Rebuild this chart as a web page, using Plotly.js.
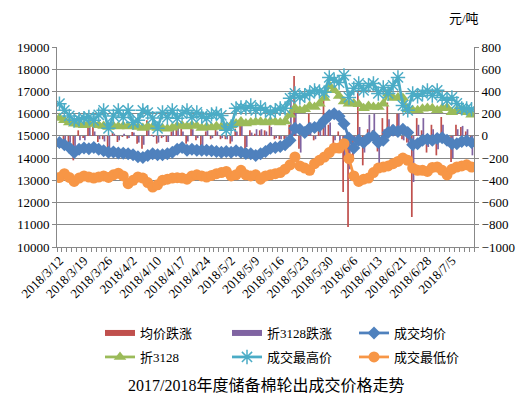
<!DOCTYPE html>
<html>
<head>
<meta charset="utf-8">
<script src="https://cdn.plot.ly/plotly-3.0.1.min.js"></script>
<style>html,body{margin:0;padding:0;background:#fff;}#chart{width:524px;height:398px;}</style>
</head>
<body>
<div id="chart"></div>
<script>
const dates = [
 "2018/3/12","2018/3/13","2018/3/14","2018/3/15","2018/3/16",
 "2018/3/19","2018/3/20","2018/3/21","2018/3/22","2018/3/23",
 "2018/3/26","2018/3/27","2018/3/28","2018/3/29","2018/3/30",
 "2018/4/2","2018/4/3","2018/4/4","2018/4/8","2018/4/9",
 "2018/4/10","2018/4/11","2018/4/12","2018/4/13","2018/4/16",
 "2018/4/17","2018/4/18","2018/4/19","2018/4/20","2018/4/23",
 "2018/4/24","2018/4/25","2018/4/26","2018/4/27","2018/4/28",
 "2018/5/2","2018/5/3","2018/5/4","2018/5/7","2018/5/8",
 "2018/5/9","2018/5/10","2018/5/11","2018/5/14","2018/5/15",
 "2018/5/16","2018/5/17","2018/5/18","2018/5/21","2018/5/22",
 "2018/5/23","2018/5/24","2018/5/25","2018/5/28","2018/5/29",
 "2018/5/30","2018/5/31","2018/6/1","2018/6/4","2018/6/5",
 "2018/6/6","2018/6/7","2018/6/8","2018/6/11","2018/6/12",
 "2018/6/13","2018/6/14","2018/6/15","2018/6/19","2018/6/20",
 "2018/6/21","2018/6/22","2018/6/25","2018/6/26","2018/6/27",
 "2018/6/28","2018/6/29","2018/7/2","2018/7/3","2018/7/4",
 "2018/7/5","2018/7/6","2018/7/9","2018/7/10","2018/7/11"
];
// 均价跌涨
const avgChange = [
 0,-55,-85,-220,50, -20,85,85,-55,-30,
 -115,35,-55,-10,-25, 35,-70,-115,140,10,
 -70,-20,-55,40,95, 65,-70,110,-40,-130,
 40,-30,65,-30,-30, -70,65,100,-130,50,
 20,50,50,95,-30, -30,-30,100,540,-115,
 60,200,-40,80,350, 100,-70,40,-505,-820,
 -220,410,-265,60,50, -140,160,300,100,200,
 -30,-60,-730,160,50, -150,100,-175,170,-50,
 -235,100,80,40,-60
];
// 折3128跌涨
const c3128Change = [
 0,-40,-60,-120,-40, -40,95,40,-30,-50,
 -110,20,-40,20,-20, 30,-60,-80,60,-10,
 -60,-10,-55,55,80, 40,-50,60,-20,-120,
 55,-20,40,-20,-30, -50,40,90,-100,30,
 60,60,40,80,-20, -30,-20,365,250,-150,
 40,120,-30,60,160, 120,-40,-50,-200,-300,
 -60,80,-150,190,200, -325,60,150,80,200,
 -40,-70,-415,100,160, -100,60,-120,100,-40,
 -200,60,90,60,-175
];
// 成交均价
const avgPrice = [
 14700,14600,14480,14250,14400, 14450,14420,14480,14400,14330,
 14260,14280,14230,14220,14200, 14150,14060,14030,14120,14200,
 14150,14150,14200,14260,14400, 14480,14350,14400,14350,14350,
 14350,14330,14300,14260,14300, 14260,14330,14260,14210,14200,
 14120,14200,14300,14440,14480, 14520,14600,14800,15340,15300,
 15150,15340,15380,15450,15700, 15920,16000,15880,15550,14900,
 14450,14800,14700,14900,15000, 14700,14800,15150,15250,15200,
 15300,15150,14600,14650,14800, 14850,14800,14880,14920,14800,
 14650,14650,14750,14780,14700
];
// 折3128
const price3128 = [
 15800,15700,15600,15550,15500, 15480,15560,15540,15480,15450,
 15400,15440,15420,15450,15420, 15450,15400,15350,15420,15400,
 15350,15340,15320,15370,15450, 15470,15420,15480,15450,15360,
 15400,15380,15430,15400,15380, 15480,15560,15650,15560,15600,
 15620,15640,15600,15650,15620, 15600,15650,15950,16250,16150,
 16200,16350,16300,16450,16700, 17270,17050,16800,16550,16450,
 16460,16420,16240,16350,16300, 16300,16450,16900,16700,16730,
 16700,16200,16150,16150,16220, 16250,16240,16150,16240,16280,
 16060,16150,16150,16060,15950
];
// 成交最高价
const highPrice = [
 16450,16150,15900,15700,15750, 15800,15850,15700,15950,16150,
 15340,15900,16150,15830,16150, 15600,15700,16150,16050,15800,
 15340,16060,15830,16150,15790, 16000,16150,15830,16060,15880,
 15790,15970,16000,15920,15250, 15420,16240,16280,16240,16370,
 16150,16280,16150,16060,16150, 16240,16240,16690,16910,16730,
 16820,16910,17050,17000,16960, 17630,17500,17400,17720,16730,
 17140,17360,17050,17270,17360, 16910,17180,16910,17270,17630,
 16370,16150,16910,16780,16910, 17050,16820,17050,16730,16600,
 16730,16460,16240,16240,16200
];
// 成交最低价
const lowPrice = [
 13130,13300,13130,12950,13100, 13200,13150,13100,13150,13200,
 13130,13250,13320,13200,12850, 13000,13150,13100,12900,12700,
 12800,13000,13050,13100,13120, 13100,13050,13200,13250,13200,
 13150,13220,13300,13350,13400, 13200,13250,13450,13250,13200,
 13250,13050,13200,13250,13300, 13350,13500,13700,14050,13650,
 13550,13450,13750,13900,14050, 14250,14450,14450,14650,13980,
 13200,12950,13050,13100,13350, 13550,13600,13650,13750,13850,
 14000,13900,13550,13450,13450, 13400,13580,13600,13450,13250,
 13500,13600,13650,13700,13600
];

const idx = dates.map((d, i) => i);
const labelIdx = idx.filter(i => i % 5 === 0);
const labelText = labelIdx.map(i => dates[i]);

const C_RED = '#C0504D', C_PUR = '#8064A2', C_BLUE = '#4F81BD',
      C_GREEN = '#9BBB59', C_TEAL = '#4BACC6', C_ORANGE = '#F79646';
const FONT = 'Liberation Serif';
const CJK = 'Liberation Serif, Noto Sans CJK SC';

const traces = [
  {type:'bar', name:'均价跌涨', x: idx, y: avgChange, yaxis:'y', xaxis:'x',
   marker:{color:C_RED}, showlegend:false, hoverinfo:'skip'},
  {type:'bar', name:'折3128跌涨', x: idx, y: c3128Change, yaxis:'y', xaxis:'x',
   marker:{color:C_PUR}, showlegend:false, hoverinfo:'skip'},
  // legend proxies for bars (thick line swatch)
  {type:'scatter', mode:'lines', name:'均价跌涨', x:[null], y:[null], yaxis:'y',
   line:{color:C_RED, width:6}, legend:'legend'},
  {type:'scatter', mode:'lines', name:'折3128跌涨', x:[null], y:[null], yaxis:'y',
   line:{color:C_PUR, width:6}, legend:'legend'},
  {type:'scatter', mode:'lines+markers', name:'成交均价', x: idx, y: avgPrice, yaxis:'y2',
   line:{color:C_BLUE, width:2.75}, marker:{symbol:'diamond', size:10, color:C_BLUE}, legend:'legend'},
  {type:'scatter', mode:'lines+markers', name:'折3128', x: idx, y: price3128, yaxis:'y2',
   line:{color:C_GREEN, width:2.75}, marker:{symbol:'triangle-up', size:11, color:C_GREEN}, legend:'legend2'},
  {type:'scatter', mode:'lines+markers', name:'成交最高价', x: idx, y: highPrice, yaxis:'y2',
   line:{color:C_TEAL, width:2.75}, marker:{symbol:'asterisk-open', size:12, line:{color:C_TEAL, width:1.5}}, legend:'legend2'},
  {type:'scatter', mode:'lines+markers', name:'成交最低价', x: idx, y: lowPrice, yaxis:'y2',
   line:{color:C_ORANGE, width:2.75}, marker:{symbol:'circle', size:11, color:C_ORANGE}, legend:'legend2'}
];

const legendCommon = {
  orientation:'h', xref:'container', yref:'container', xanchor:'left', yanchor:'middle',
  font:{family:CJK, size:13, color:'#000'}, entrywidth:82, entrywidthmode:'pixels',
  bgcolor:'rgba(0,0,0,0)', itemwidth:30, traceorder:'normal'
};

const layout = {
  width:524, height:398,
  margin:{l:57, r:50, t:47, b:151, pad:0},
  paper_bgcolor:'#fff', plot_bgcolor:'#fff',
  showlegend:true,
  barmode:'group', bargap:0.3, bargroupgap:0,
  font:{family:FONT, size:13, color:'#000'},
  xaxis:{
    range:[-0.5, 84.5], showgrid:false, zeroline:false,
    showline:true, linecolor:'#888', linewidth:1,
    tickmode:'array', tickvals:labelIdx, ticktext:labelText,
    ticks:'', tickangle:-45, tickfont:{family:FONT, size:13, color:'#000'},
    minor:{tickmode:'linear', tick0:-0.5, dtick:1, ticks:'outside', ticklen:4, tickcolor:'#888', tickwidth:1, showgrid:false}
  },
  yaxis:{
    side:'right', range:[-1000, 800], dtick:200, tick0:0,
    showgrid:true, gridcolor:'#888', gridwidth:1, zeroline:false,
    showline:true, linecolor:'#888', linewidth:1,
    ticks:'outside', ticklen:4, tickcolor:'#888',
    tickfont:{family:FONT, size:13, color:'#000'}
  },
  yaxis2:{
    overlaying:'y', side:'left', range:[10000, 19000], dtick:1000, tick0:10000,
    tickformat:'d', exponentformat:'none',
    showgrid:false, zeroline:false,
    showline:true, linecolor:'#888', linewidth:1,
    ticks:'outside', ticklen:4, tickcolor:'#888',
    tickfont:{family:FONT, size:13, color:'#000'}
  },
  legend:Object.assign({}, legendCommon, {x:100/524, y:1-333/398}),
  legend2:Object.assign({}, legendCommon, {x:100/524, y:1-357/398}),
  annotations:[
    {text:'元/吨', xref:'paper', yref:'paper', x:(464-57)/417, y:1, xanchor:'center', yanchor:'middle',
     yshift:29, showarrow:false, font:{family:CJK, size:13, color:'#000'}},
    {text:'2017/2018年度储备棉轮出成交价格走势', xref:'paper', yref:'paper',
     x:(266-57)/417, y:(247-385)/200, xanchor:'center', yanchor:'middle', showarrow:false,
     font:{family:CJK, size:16, color:'#000'}}
  ]
};

Plotly.newPlot('chart', traces, layout, {displayModeBar:false, staticPlot:true});
</script>
</body>
</html>
